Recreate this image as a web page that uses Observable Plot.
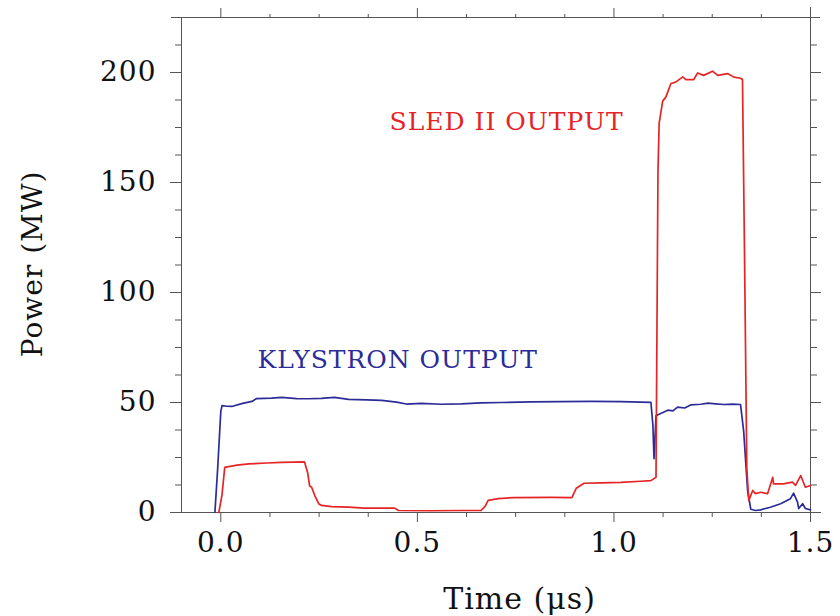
<!DOCTYPE html>
<html>
<head>
<meta charset="utf-8">
<script src="https://cdn.jsdelivr.net/npm/d3@7"></script>
<script src="https://cdn.jsdelivr.net/npm/@observablehq/plot@0.6"></script>
<style>
  html, body { margin: 0; padding: 0; background: #fff; }
  svg text { letter-spacing: 1px; }
</style>
</head>
<body>
<div id="chart"></div>
<script>
// ---- Data ----
const xDomain = [-0.1, 1.5];
const yDomain = [0, 225];
const xMajorTicks = [0, 0.5, 1.0, 1.5];
const xMinorTicks = [0.125, 0.25, 0.375, 0.625, 0.75, 0.875, 1.125, 1.25, 1.375];
const yMajorTicks = [0, 50, 100, 150, 200];
const yMinorTicks = [12.5, 25, 37.5, 62.5, 75, 87.5, 112.5, 125, 137.5, 162.5, 175, 187.5, 212.5];

// Klystron output (blue)
const klystronTime = [-0.015, -0.008, 0.0, 0.003, 0.015, 0.028, 0.053, 0.079, 0.091, 0.129, 0.155, 0.193, 0.223, 0.256, 0.289, 0.325, 0.371, 0.409, 0.447, 0.472, 0.51, 0.561, 0.612, 0.662, 0.713, 0.789, 0.865, 0.942, 1.018, 1.068, 1.094, 1.099, 1.102, 1.107, 1.119, 1.137, 1.15, 1.162, 1.18, 1.195, 1.221, 1.239, 1.259, 1.279, 1.302, 1.322, 1.33, 1.34, 1.348, 1.36, 1.373, 1.398, 1.424, 1.449, 1.457, 1.467, 1.47, 1.48, 1.487, 1.5];
const klystronPower = [0, 20, 46, 48.6, 48.3, 48.2, 49.5, 50.5, 51.8, 52, 52.3, 51.8, 51.7, 51.9, 52.3, 51.4, 51.2, 51, 50.2, 49.3, 49.6, 49.2, 49.4, 49.8, 50, 50.3, 50.4, 50.5, 50.4, 50.2, 50.1, 40, 24.5, 44, 45, 46.5, 46.2, 47.9, 47.5, 48.9, 49.2, 49.7, 49.4, 49.1, 49.3, 49.1, 37, 10, 1.5, 0.9, 1.2, 2.4, 4, 6.3, 8.8, 4.7, 1.8, 4, 1.8, 1.2];

// SLED II output (red)
const sledTime = [-0.005, 0.003, 0.01, 0.041, 0.071, 0.117, 0.155, 0.213, 0.221, 0.226, 0.231, 0.239, 0.249, 0.256, 0.282, 0.325, 0.365, 0.442, 0.452, 0.536, 0.612, 0.662, 0.673, 0.68, 0.706, 0.746, 0.84, 0.893, 0.904, 0.924, 0.967, 1.018, 1.068, 1.094, 1.107, 1.112, 1.115, 1.124, 1.132, 1.145, 1.157, 1.175, 1.183, 1.203, 1.213, 1.228, 1.251, 1.264, 1.289, 1.305, 1.322, 1.327, 1.332, 1.338, 1.343, 1.353, 1.36, 1.373, 1.391, 1.404, 1.406, 1.431, 1.454, 1.462, 1.475, 1.487, 1.5];
const sledPower = [0, 8, 20.5, 21.5, 22.1, 22.5, 22.8, 23, 18, 12, 11.5, 7.7, 4, 3.2, 2.7, 2.4, 2, 2, 0.9, 0.8, 0.9, 0.9, 3, 5.5, 6.3, 6.8, 6.9, 6.8, 11, 13.3, 13.5, 13.7, 14.2, 14.5, 16, 155, 177, 187, 188.8, 195, 195.6, 198, 196.8, 196.8, 199.8, 198.7, 200.6, 198.7, 199.5, 197.9, 197.4, 196.8, 120, 20, 5.5, 10, 8.6, 9.2, 8.6, 16, 13, 13, 13.8, 12.3, 16.8, 11.5, 12.3];

const seriesLabels = ["KLYSTRON OUTPUT", "SLED II OUTPUT"];
const xLabel = "Time (μs)";
const yLabel = "Power (MW)";

const red = "#e52525";
const blue = "#2c2c98";
const axisColor = "#555";

const klystron = klystronTime.map((t, i) => ({t, p: klystronPower[i]}));
const sled = sledTime.map((t, i) => ({t, p: sledPower[i]}));

const chart = Plot.plot({
  width: 840,
  height: 616,
  marginLeft: 181,
  marginRight: 30,
  marginTop: 17,
  marginBottom: 104,
  x: {domain: xDomain},
  y: {domain: yDomain},
  style: {fontFamily: "'DejaVu Serif', serif", fontSize: "28px", background: "#fff", color: "#111"},
  marks: [
    // frame lines (top/bottom extended like the reference)
    Plot.ruleY([yDomain[0]], {stroke: axisColor, insetLeft: -10, insetRight: -10}),
    Plot.ruleY([yDomain[1]], {stroke: axisColor, insetLeft: -10, insetRight: -10}),
    Plot.ruleX([xDomain[0]], {stroke: axisColor}),
    Plot.ruleX([xDomain[1]], {stroke: axisColor, insetTop: -10, insetBottom: -10}),
    // bottom axis
    Plot.axisX(xMajorTicks, {anchor: "bottom", tickSize: 10, tickPadding: 10, tickFormat: d3.format(".1f"), label: null, stroke: axisColor, fill: "#111"}),
    Plot.axisX(xMinorTicks, {anchor: "bottom", tickSize: 5, tickFormat: () => "", label: null, stroke: axisColor}),
    // top axis
    Plot.axisX(xMajorTicks, {anchor: "top", tickSize: 10, tickFormat: () => "", label: null, stroke: axisColor}),
    Plot.axisX(xMinorTicks, {anchor: "top", tickSize: 4, tickFormat: () => "", label: null, stroke: axisColor}),
    // left axis
    Plot.axisY(yMajorTicks, {anchor: "left", tickSize: 11, tickPadding: 14, label: null, stroke: axisColor, fill: "#111"}),
    Plot.axisY(yMinorTicks, {anchor: "left", tickSize: 6, tickFormat: () => "", label: null, stroke: axisColor}),
    // right axis
    Plot.axisY(yMajorTicks, {anchor: "right", tickSize: 10, tickFormat: () => "", label: null, stroke: axisColor}),
    Plot.axisY(yMinorTicks, {anchor: "right", tickSize: 6, tickFormat: () => "", label: null, stroke: axisColor}),
    // data
    Plot.line(klystron, {x: "t", y: "p", stroke: blue, strokeWidth: 1.7}),
    Plot.line(sled, {x: "t", y: "p", stroke: red, strokeWidth: 1.7}),
    // series annotations
    Plot.text([seriesLabels[1]], {x: () => 0.727, y: () => 177.6, text: d => d, fill: red, fontSize: 25, textAnchor: "middle", lineAnchor: "middle"}),
    Plot.text([seriesLabels[0]], {x: () => 0.45, y: () => 69.4, text: d => d, fill: blue, fontSize: 25, textAnchor: "middle", lineAnchor: "middle"}),
    // axis titles
    Plot.text([xLabel], {x: () => 0.76, frameAnchor: "bottom", dy: 87, text: d => d, fill: "#111", fontSize: 30, textAnchor: "middle", lineAnchor: "middle"}),
    Plot.text([yLabel], {y: () => 113, frameAnchor: "left", dx: -148, rotate: -90, text: d => d, fill: "#111", fontSize: 28, textAnchor: "middle", lineAnchor: "middle"})
  ]
});

document.getElementById("chart").appendChild(chart);
</script>
</body>
</html>
